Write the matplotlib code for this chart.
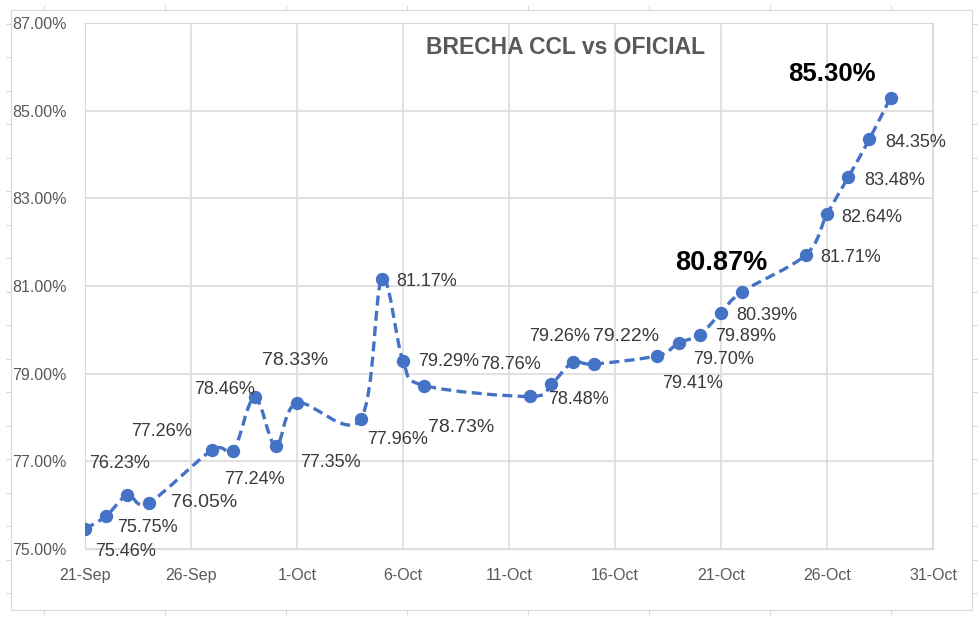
import numpy as np
import pandas as pd
import matplotlib
matplotlib.use("Agg")
import matplotlib.pyplot as plt
import matplotlib.dates as mdates
from matplotlib.path import Path
from matplotlib.patches import PathPatch
from matplotlib.ticker import FuncFormatter

# brecha CCL vs oficial, daily values (%)
dates = ["2021-09-21", "2021-09-22", "2021-09-23", "2021-09-24", "2021-09-27",
         "2021-09-28", "2021-09-29", "2021-09-30", "2021-10-01", "2021-10-04",
         "2021-10-05", "2021-10-06", "2021-10-07", "2021-10-12", "2021-10-13",
         "2021-10-14", "2021-10-15", "2021-10-18", "2021-10-19", "2021-10-20",
         "2021-10-21", "2021-10-22", "2021-10-25", "2021-10-26", "2021-10-27",
         "2021-10-28", "2021-10-29"]
brecha = [75.46, 75.75, 76.23, 76.05, 77.26, 77.24, 78.46, 77.35, 78.33, 77.96,
          81.17, 79.29, 78.73, 78.48, 78.76, 79.26, 79.22, 79.41, 79.70, 79.89,
          80.39, 80.87, 81.71, 82.64, 83.48, 84.35, 85.30]

# label placement (offset in pixels from the point) and style
lab_dx = [41, 41, -8, 56, -51, 21, -30, 55, -2, 37, 45, 46, 37, 48, -41, -13,
          32, 35, 45, 46, 46, -21, 45, 45, 46, 46, -59]
lab_dy = [-23, -11, 32, 0, 18, -29, 8, -17, 43, -20, -3, -1, -42, -3, 20, 26,
          28, -28, -17, -2, -3, 29, -3, -3, -3, -3, 24]
lab_style = ["n", "n", "n", "b", "n", "n", "n", "n", "b", "n", "n", "n", "b",
             "n", "n", "n", "b", "n", "n", "n", "n", "B", "n", "n", "n", "n", "B"]

blue = "#4472C4"
grid_c = "#d9d9d9"
txt_c = "#595959"
plt.rcParams["font.family"] = ["Liberation Sans", "DejaVu Sans"]

x = mdates.date2num(pd.to_datetime(dates))
y = np.array(brecha) / 100.0

fig = plt.figure(figsize=(9.8, 6.19), dpi=100)

# outer frame with little ruler ticks
bg = fig.add_axes([11 / 980, 9 / 619, 961 / 980, 600 / 619])
bg.set_xlim(11, 972)
bg.set_ylim(610, 10)
bg.set_xticks([44 + 121 * k for k in range(8)])
bg.set_yticks([24 + 33.5 * k for k in range(18)])
bg.tick_params(direction="out", length=3.5, color=grid_c, top=True, right=True,
               labelleft=False, labelbottom=False)
for s in bg.spines.values():
    s.set_color(grid_c)

ax = fig.add_axes([85 / 980, 70 / 619, 848 / 980, 526 / 619])
ax.set_facecolor("white")
ax.set_xlim(mdates.date2num(pd.Timestamp("2021-09-21")),
            mdates.date2num(pd.Timestamp("2021-10-31")))
ax.set_ylim(0.75, 0.87)
ax.set_yticks(np.arange(0.75, 0.8701, 0.02))
ax.yaxis.set_major_formatter(FuncFormatter(lambda v, p: "{:.2f}%".format(v * 100)))
ax.set_xticks(mdates.date2num(pd.date_range("2021-09-21", "2021-10-31", freq="5D")))
ax.xaxis.set_major_formatter(mdates.DateFormatter("%-d-%b"))
ax.tick_params(length=0, labelsize=11.5, labelcolor=txt_c, pad=13.5)
ax.grid(True, color=grid_c, lw=1.1)
ax.set_axisbelow(True)
for s in ax.spines.values():
    s.set_color(grid_c)

# smoothed line (bezier through the points, like excel)
pts = np.column_stack([x, y])
verts = [pts[0]]
codes = [Path.MOVETO]
n = len(pts)
for i in range(n - 1):
    p0 = pts[max(i - 1, 0)]
    p1 = pts[i]
    p2 = pts[i + 1]
    p3 = pts[min(i + 2, n - 1)]
    verts += [p1 + (p2 - p0) / 6, p2 - (p3 - p1) / 6, p2]
    codes += [Path.CURVE4] * 3
ax.add_patch(PathPatch(Path(verts, codes), fill=False, edgecolor=blue, lw=2.4,
                       linestyle=(0, (3, 1.6)), zorder=3))
ax.plot(x, y, "o", color=blue, ms=8.6, zorder=4)

for i in range(n):
    st = lab_style[i]
    if st == "B":
        kw = dict(fontsize=19.5 if i == 21 else 18.5, fontweight="bold", color="black")
    elif st == "b":
        kw = dict(fontsize=14, color="#3a3a3a")
    else:
        kw = dict(fontsize=13, color="#3a3a3a")
    ax.annotate("{:.2f}%".format(brecha[i]), (x[i], y[i]), xytext=(lab_dx[i], lab_dy[i]),
                textcoords="offset pixels", ha="center", va="center", zorder=5, **kw)

ax.text(566 / 980, 1 - 48 / 619, "BRECHA CCL vs OFICIAL", transform=fig.transFigure,
        ha="center", va="center", fontsize=16.5, fontweight="bold", color=txt_c)

fig.savefig("out.png", dpi=100)
